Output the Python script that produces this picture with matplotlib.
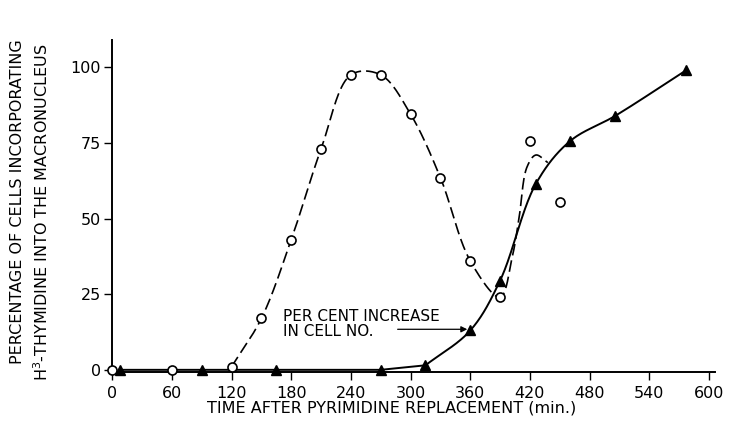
import numpy as np
import matplotlib
matplotlib.use("Agg")
import matplotlib.pyplot as plt

# open circles: % cells incorporating H3-thymidine
circ_t = [0, 60, 120, 150, 180, 210, 240, 270, 300, 330, 360, 390, 420, 450]
circ_pct = [0, 0, 1, 17, 43, 73, 97.5, 97.5, 84.5, 63.5, 36, 24, 75.5, 55.5]

# hand-drawn dashed fit beyond the last circle on the curve
fit_t = [402, 409, 417, 426, 438]
fit_pct = [37, 50, 67, 71, 68.5]

# filled triangles: per cent increase in cell number
tri_t = [8, 90, 165, 270, 315, 360, 390, 426, 460, 506, 577]
tri_pct = [0, 0, 0, 0, 1.5, 13, 29.5, 61.5, 75.5, 84, 99]

xticks = [0, 60, 120, 180, 240, 300, 360, 420, 480, 540, 600]
yticks = [0, 25, 50, 75, 100]


def smooth(xs, ys, n=40, yscale=3.0):
    # centripetal Catmull-Rom through the points
    p = np.column_stack([xs, np.asarray(ys, float) * yscale]).astype(float)
    p = np.vstack([2 * p[0] - p[1], p, 2 * p[-1] - p[-2]])
    out = []
    for i in range(1, len(p) - 2):
        P0, P1, P2, P3 = p[i - 1], p[i], p[i + 1], p[i + 2]
        t0 = 0.0
        t1 = t0 + np.linalg.norm(P1 - P0) ** 0.5
        t2 = t1 + np.linalg.norm(P2 - P1) ** 0.5
        t3 = t2 + np.linalg.norm(P3 - P2) ** 0.5
        t = np.linspace(t1, t2, n)[:, None]
        A1 = (t1 - t) / (t1 - t0) * P0 + (t - t0) / (t1 - t0) * P1
        A2 = (t2 - t) / (t2 - t1) * P1 + (t - t1) / (t2 - t1) * P2
        A3 = (t3 - t) / (t3 - t2) * P2 + (t - t2) / (t3 - t2) * P3
        B1 = (t2 - t) / (t2 - t0) * A1 + (t - t0) / (t2 - t0) * A2
        B2 = (t3 - t) / (t3 - t1) * A2 + (t - t1) / (t3 - t1) * A3
        C = (t2 - t) / (t2 - t1) * B1 + (t - t1) / (t2 - t1) * B2
        out.append(C)
    c = np.vstack(out)
    return c[:, 0], c[:, 1] / yscale


fig = plt.figure(figsize=(7.31, 4.33), dpi=100)
ax = fig.add_axes([0.1535, 0.141, 0.8245, 0.7665])

# dashed curve through circles (from 120 min onward) plus fitted hook
dx, dy = smooth(circ_t[2:12] + fit_t, circ_pct[2:12] + fit_pct)
ax.plot(dx, dy, color="black", lw=1.2, ls=(0, (7, 3)), zorder=2)

# solid curve through triangles
ax.plot(tri_t[:5], tri_pct[:5], color="black", lw=1.4, zorder=2)
sx, sy = smooth(tri_t[4:], tri_pct[4:])
ax.plot(sx, sy, color="black", lw=1.4, zorder=2)

ax.plot(circ_t, circ_pct, ls="none", marker="o", ms=6.5, mfc="white",
        mec="black", mew=1.2, zorder=4, clip_on=False)
ax.plot(tri_t, tri_pct, ls="none", marker="^", ms=7.5, color="black",
        zorder=4, clip_on=False)

ax.text(172, 15.2, "PER CENT INCREASE\nIN CELL NO.", fontsize=11,
        ha="left", va="center", linespacing=1.0)
ax.annotate("", xy=(357, 13.4), xytext=(287, 13.4),
            arrowprops=dict(arrowstyle="-|>", color="black", lw=0.9,
                            mutation_scale=9, shrinkA=0, shrinkB=0))

ax.set_xlim(0, 606)
ax.set_ylim(-0.7, 109)
ax.set_xticks(xticks)
ax.set_yticks(yticks)
ax.tick_params(direction="out", length=6, width=1.0, labelsize=11.5, pad=2)
ax.tick_params(axis="x", pad=4)
for s in ["top", "right"]:
    ax.spines[s].set_visible(False)
for s in ["left", "bottom"]:
    ax.spines[s].set_linewidth(1.4)

fig.text(392 / 731, 1 - 408 / 433, "TIME AFTER PYRIMIDINE REPLACEMENT (min.)",
         fontsize=11.5, ha="center", va="center")
fig.text(18 / 731, 1 - 202 / 433, "PERCENTAGE OF CELLS INCORPORATING",
         fontsize=11.5, ha="center", va="center", rotation=90)
fig.text(42 / 731, 1 - 212 / 433, "H$^3$-THYMIDINE INTO THE MACRONUCLEUS",
         fontsize=11.5, ha="center", va="center", rotation=90)

fig.savefig("out.png", dpi=100)
